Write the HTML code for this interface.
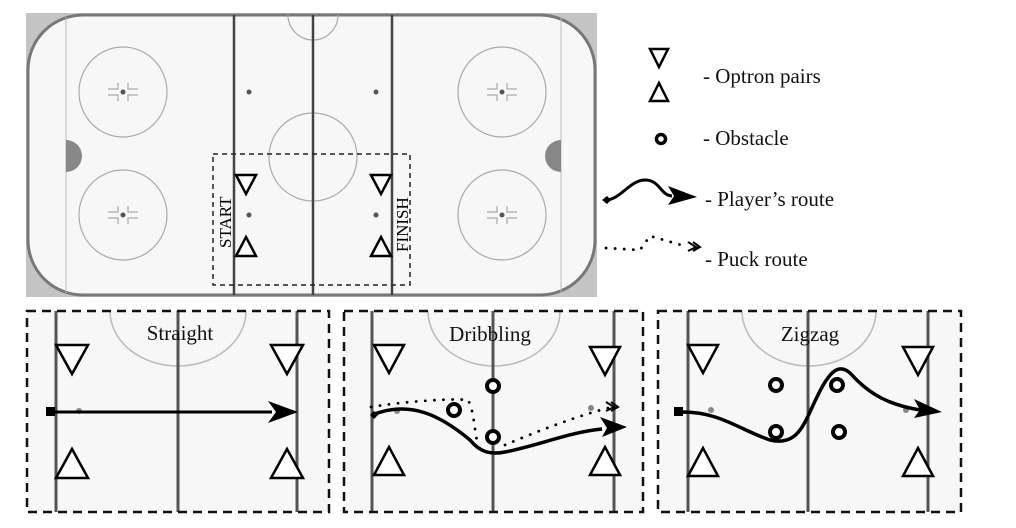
<!DOCTYPE html>
<html><head><meta charset="utf-8"><style>
html,body{margin:0;padding:0;background:#fff;width:1016px;height:528px;overflow:hidden}
svg{display:block;font-family:"Liberation Serif",serif}
</style></head><body>
<svg width="1016" height="528" viewBox="0 0 1016 528" xmlns="http://www.w3.org/2000/svg">
<!-- top rink -->
<rect x="26" y="13" width="571" height="284" fill="#c4c4c4"/>
<rect x="28" y="15" width="567" height="280" rx="55" fill="#f7f7f7" stroke="#777" stroke-width="3"/>
<line x1="66" y1="17" x2="66" y2="293" stroke="#bbb" stroke-width="1"/>
<line x1="561" y1="17" x2="561" y2="293" stroke="#bbb" stroke-width="1"/>
<path d="M66 140 A16 16 0 0 1 66 172 Z" fill="#888"/>
<path d="M561 140 A16 16 0 0 0 561 172 Z" fill="#888"/>
<g fill="none" stroke="#aaa" stroke-width="1.2">
<ellipse cx="123" cy="92" rx="44" ry="45"/><ellipse cx="123" cy="215" rx="44" ry="45"/>
<ellipse cx="502" cy="92" rx="44" ry="45"/><ellipse cx="502" cy="215" rx="44" ry="45"/>
<circle cx="313" cy="157" r="44"/>
<path d="M288 15 A25 25 0 0 0 338 15"/>
<path d="M108 89h10v-6M108 95h10v6M138 89h-10v-6M138 95h-10v6"/>
<path d="M108 212h10v-6M108 218h10v6M138 212h-10v-6M138 218h-10v6"/>
<path d="M487 89h10v-6M487 95h10v6M517 89h-10v-6M517 95h-10v6"/>
<path d="M487 212h10v-6M487 218h10v6M517 212h-10v-6M517 218h-10v6"/>
</g>
<g fill="#555"><circle cx="123" cy="92" r="2.5"/><circle cx="123" cy="215" r="2.5"/><circle cx="502" cy="92" r="2.5"/><circle cx="502" cy="215" r="2.5"/>
<circle cx="249" cy="92" r="2.5"/><circle cx="376" cy="92" r="2.5"/><circle cx="249" cy="215" r="2.5"/><circle cx="376" cy="215" r="2.5"/></g>
<g stroke="#444" stroke-width="2.5"><line x1="234" y1="15" x2="234" y2="295"/><line x1="313" y1="15" x2="313" y2="295"/><line x1="392" y1="15" x2="392" y2="295"/></g>
<rect x="213" y="154" width="197" height="131" fill="none" stroke="#222" stroke-width="1.5" stroke-dasharray="5,4"/>
<g fill="#fff" stroke="#000" stroke-width="2.5">
<path d="M236 175h20l-10 19z"/><path d="M236 256h20l-10-19z"/>
<path d="M371 175h20l-10 19z"/><path d="M371 256h20l-10-19z"/>
</g>
<text transform="translate(231,248) rotate(-90)" font-size="17">START</text>
<text transform="translate(408,252) rotate(-90)" font-size="17">FINISH</text>
<!-- legend -->
<g fill="#fff" stroke="#000" stroke-width="2.5">
<path d="M650 49h18l-9 18z"/><path d="M650 101h18l-9-18z"/>
<circle cx="661" cy="139" r="4.5" stroke-width="3.5"/>
</g>
<g font-size="21" fill="#111">
<text x="703" y="83">-  Optron pairs</text>
<text x="703" y="145">-  Obstacle</text>
<text x="705" y="206">-  Player’s route</text>
<text x="705" y="266">-  Puck route</text>
</g>
<path d="M606 200 C620 200,630 180,645 180 C660 180,660 195,672 196" fill="none" stroke="#000" stroke-width="3"/>
<path d="M602 200l5-4 4 4-4 4z" fill="#000"/>
<path d="M668 186 L697 197 L668 205 L674 196Z" fill="#000"/>
<path d="M606 248 L640 250 L650 236 L688 247" fill="none" stroke="#000" stroke-width="2.8" stroke-dasharray="0.1,9" stroke-linecap="round"/>
<path d="M688 242l8 5-8 4M693 242l7 5-7 4" fill="none" stroke="#000" stroke-width="2"/>
<!-- bottom panels -->
<g fill="#f7f7f7"><rect x="27" y="311" width="302" height="201"/><rect x="344" y="311" width="299" height="201"/><rect x="658" y="311" width="303" height="201"/></g>
<g fill="none" stroke="#bbb" stroke-width="1.5">
<path d="M110 311 A68 55 0 0 0 246 311"/>
<path d="M428 311 A66 55 0 0 0 560 311"/>
<path d="M742 311 A67 55 0 0 0 876 311"/>
</g>
<g stroke="#555" stroke-width="3">
<line x1="56" y1="311" x2="56" y2="512"/><line x1="178" y1="311" x2="178" y2="512"/><line x1="297" y1="311" x2="297" y2="512"/>
<line x1="372" y1="311" x2="372" y2="512"/><line x1="493" y1="311" x2="493" y2="512"/><line x1="614" y1="311" x2="614" y2="512"/>
<line x1="688" y1="311" x2="688" y2="512"/><line x1="808" y1="311" x2="808" y2="512"/><line x1="928" y1="311" x2="928" y2="512"/>
</g>
<g fill="#888"><circle cx="79" cy="411" r="3"/><circle cx="397" cy="411" r="3"/><circle cx="591" cy="408" r="3"/><circle cx="711" cy="410" r="3"/><circle cx="906" cy="410" r="3"/></g>
<g fill="none" stroke="#111" stroke-width="2.5" stroke-dasharray="9,6">
<rect x="27" y="311" width="302" height="201"/><rect x="344" y="311" width="299" height="201"/><rect x="658" y="311" width="303" height="201"/>
</g>
<g font-size="21" fill="#111" text-anchor="middle">
<text x="180" y="340">Straight</text><text x="490" y="341">Dribbling</text><text x="810" y="341">Zigzag</text>
</g>
<g fill="#fff" stroke="#000" stroke-width="2.5">
<path d="M56 345h32l-16 29z"/><path d="M56 478h32l-16-29z"/><path d="M271 345h32l-16 29z"/><path d="M271 478h32l-16-29z"/>
<path d="M374 345h30l-15 28z"/><path d="M374 475h30l-15-28z"/><path d="M590 347h30l-15 28z"/><path d="M590 475h30l-15-28z"/>
<path d="M688 345h30l-15 28z"/><path d="M688 476h30l-15-28z"/><path d="M903 347h30l-15 28z"/><path d="M903 476h30l-15-28z"/>
</g>
<!-- straight -->
<rect x="46" y="407" width="9" height="9" fill="#000"/>
<line x1="55" y1="412" x2="272" y2="412" stroke="#000" stroke-width="3"/>
<path d="M268 401 L298 412 L268 423 L276 412Z" fill="#000"/>
<!-- dribbling -->
<path d="M371 407 C400 402,450 398,468 400 C474 410,474 430,478 445 M505 445 C540 430,580 415,612 407" fill="none" stroke="#000" stroke-width="2.8" stroke-dasharray="0.1,9" stroke-linecap="round"/>
<path d="M606 402l8 5-8 4M611 402l7 5-7 4" fill="none" stroke="#000" stroke-width="2"/>
<path d="M372 415 C410 400,440 415,470 440 C480 452,490 455,505 452 C540 445,570 432,602 429" fill="none" stroke="#000" stroke-width="3.5"/>
<path d="M370 415l4-4 4 4-4 4z" fill="#000"/>
<path d="M600 417 L627 427 L602 437 L607 428Z" fill="#000"/>
<g fill="#fff" stroke="#000" stroke-width="4">
<circle cx="493" cy="386" r="6"/><circle cx="454" cy="410" r="6"/><circle cx="493" cy="437" r="6"/>
<circle cx="776" cy="385" r="6"/><circle cx="776" cy="432" r="6"/><circle cx="837" cy="385" r="6"/><circle cx="839" cy="432" r="6"/>
</g>
<!-- zigzag -->
<rect x="674" y="407" width="9" height="9" fill="#000"/>
<path d="M683 412 C720 412,740 430,770 440 C800 447,805 420,818 395 C830 370,840 362,852 375 C870 395,890 405,920 410" fill="none" stroke="#000" stroke-width="3.5"/>
<path d="M914 399 L942 412 L914 418 L920 410Z" fill="#000"/>
</svg>
</body></html>
